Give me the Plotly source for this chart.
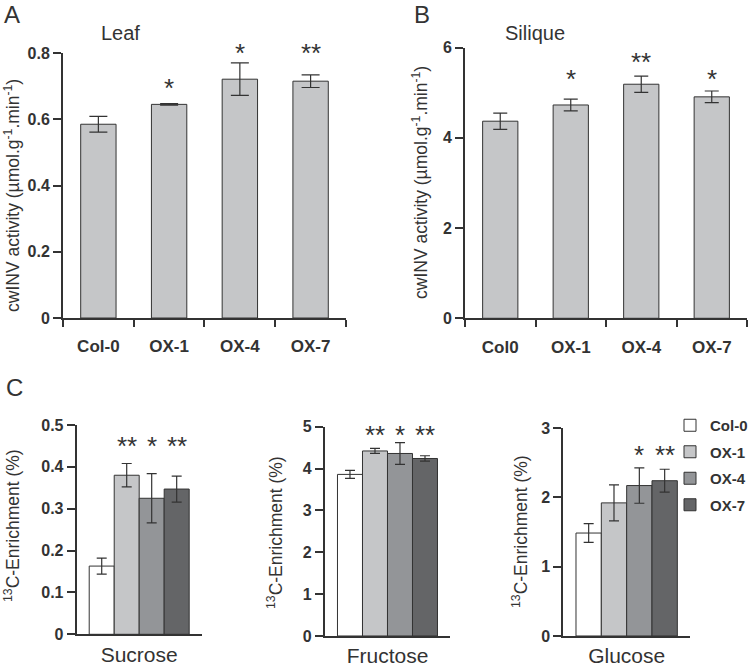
import plotly.graph_objects as go

# ---------------- data ----------------
genotypes_leaf = ["Col-0", "OX-1", "OX-4", "OX-7"]
leaf_activity = [0.585, 0.645, 0.721, 0.715]
leaf_err = [0.024, 0.002, 0.049, 0.019]
leaf_stars = ["", "*", "*", "**"]
leaf_star_y = [None, 0.704, 0.81, 0.81]

genotypes_silique = ["Col0", "OX-1", "OX-4", "OX-7"]
silique_activity = [4.37, 4.73, 5.19, 4.91]
silique_err = [0.18, 0.13, 0.18, 0.13]
silique_stars = ["", "*", "**", "*"]
silique_star_y = [None, 5.37, 5.75, 5.37]

lines = ["Col-0", "OX-1", "OX-4", "OX-7"]
sugars = ["Sucrose", "Fructose", "Glucose"]
enrich = {
    "Sucrose": [0.163, 0.380, 0.325, 0.347],
    "Fructose": [3.86, 4.42, 4.36, 4.24],
    "Glucose": [1.485, 1.92, 2.17, 2.24],
}
enrich_err = {
    "Sucrose": [0.019, 0.028, 0.059, 0.031],
    "Fructose": [0.095, 0.06, 0.26, 0.065],
    "Glucose": [0.135, 0.26, 0.255, 0.165],
}
enrich_stars = {
    "Sucrose": ["", "**", "*", "**"],
    "Fructose": ["", "**", "*", "**"],
    "Glucose": ["", "", "*", "**"],
}
enrich_star_y = {"Sucrose": 0.457, "Fructose": 4.88, "Glucose": 2.66}
enrich_range = {"Sucrose": [0, 0.5], "Fructose": [0, 5], "Glucose": [0, 3]}
enrich_dtick = {"Sucrose": 0.1, "Fructose": 1, "Glucose": 1}
leaf_range = [0, 0.8]
silique_range = [0, 6]

# ---------------- style ----------------
FONT = "Liberation Sans, Arial, sans-serif"
TXT = "#333333"
AX = "#333333"
BAR_AB = "#c5c6c8"
line_colors = ["#ffffff", "#c5c6c8", "#939598", "#646567"]

fig = go.Figure()

# Panel A
fig.add_trace(go.Bar(
    x=genotypes_leaf, y=leaf_activity, width=0.5,
    marker=dict(color=BAR_AB, line=dict(color=AX, width=1)),
    error_y=dict(type="data", array=leaf_err, color=AX, thickness=1.2, width=9),
    xaxis="x", yaxis="y", showlegend=False))
# Panel B
fig.add_trace(go.Bar(
    x=genotypes_silique, y=silique_activity, width=0.5,
    marker=dict(color=BAR_AB, line=dict(color=AX, width=1)),
    error_y=dict(type="data", array=silique_err, color=AX, thickness=1.2, width=7),
    xaxis="x2", yaxis="y2", showlegend=False))

# Panel C
for k, sugar in enumerate(sugars):
    xa = "x%d" % (k + 3)
    ya = "y%d" % (k + 3)
    for i, ln in enumerate(lines):
        fig.add_trace(go.Bar(
            x=[sugar], y=[enrich[sugar][i]], name=ln,
            marker=dict(color=line_colors[i], line=dict(color=AX, width=1)),
            error_y=dict(type="data", array=[enrich_err[sugar][i]], color=AX,
                         thickness=1.2, width=5),
            xaxis=xa, yaxis=ya, showlegend=(k == 0), legendgroup=ln,
            offsetgroup=str(i)))

def xax(domain, **kw):
    d = dict(domain=domain, showline=True, linecolor=AX, linewidth=2,
             ticks="outside", ticklen=7, tickwidth=2, tickcolor=AX,
             tickfont=dict(family=FONT, size=17, color=TXT, weight="bold"),
             showgrid=False, zeroline=False, fixedrange=True, automargin=False)
    d.update(kw)
    return d

def yax(domain, rng, dtick, **kw):
    d = dict(domain=domain, range=rng, dtick=dtick, showline=True, linecolor=AX,
             linewidth=2, ticks="outside", ticklen=8, tickwidth=2, tickcolor=AX,
             tickfont=dict(family=FONT, size=16, color=TXT, weight="bold"),
             showgrid=False, zeroline=False, fixedrange=True, automargin=False)
    d.update(kw)
    return d

layout = dict(
    width=750, height=667, margin=dict(l=0, r=0, t=0, b=0, pad=0, autoexpand=False),
    paper_bgcolor="white", plot_bgcolor="white",
    barmode="group", bargap=0.2, bargroupgap=0,
    font=dict(family=FONT, color=TXT),
    showlegend=True,
    legend=dict(x=670 / 750, y=1 - 409 / 667, xanchor="left", yanchor="top",
                font=dict(family=FONT, size=15, color=TXT, weight="bold"),
                traceorder="grouped", tracegroupgap=4, itemwidth=30,
                bgcolor="rgba(0,0,0,0)"),
)
layout["xaxis"] = xax([0.084, 0.4613], anchor="y", tickson="boundaries", ticklabelstandoff=12)
layout["yaxis"] = yax([0.5232, 0.9205], leaf_range, 0.2, anchor="x",
                      tickvals=[0, 0.2, 0.4, 0.6, 0.8], ticktext=["0", "0.2", "0.4", "0.6", "0.8"])
layout["xaxis2"] = xax([0.62, 0.996], anchor="y2", tickson="boundaries", ticklabelstandoff=12)
layout["yaxis2"] = yax([0.5228, 0.9285], silique_range, 2, anchor="x2")

c_x_domains = [[0.1023, 0.2689], [0.4333, 0.60], [0.7511, 0.92]]
c_y_domains = [[0.0490, 0.3628], [0.0465, 0.3603], [0.0465, 0.3583]]
for k, sugar in enumerate(sugars):
    layout["xaxis%d" % (k + 3)] = xax(c_x_domains[k], anchor="y%d" % (k + 3), ticks="",
                                      tickfont=dict(family=FONT, size=21, color=TXT),
                                      ticklabelstandoff=0, range=[-0.5, 0.5])
    layout["yaxis%d" % (k + 3)] = yax(c_y_domains[k], enrich_range[sugar], enrich_dtick[sugar],
                                      anchor="x%d" % (k + 3))
fig.update_layout(**layout)

ann = []
def paper_text(txt, x, y, size, angle=0):
    return dict(text=txt, x=x / 750, y=1 - y / 667, xref="paper", yref="paper",
                xanchor="center", yanchor="middle", textangle=angle,
                showarrow=False, font=dict(family=FONT, size=size, color=TXT))

# panel letters and titles
for txt, x, y in [("A", 12, 15), ("B", 422, 15), ("C", 14, 387)]:
    ann.append(paper_text(txt, x, y, 24))
for txt, x, y in [("Leaf", 120, 33), ("Silique", 535, 33)]:
    ann.append(paper_text(txt, x, y, 20))
# y titles
ytitle_ab = "cwINV activity (µmol.g<sup>-1</sup>.min<sup>-1</sup>)"
ytitle_c = "<sup>13</sup>C-Enrichment (%)"
for txt, x, y in [(ytitle_ab, 12, 196), (ytitle_ab, 420, 183),
                  (ytitle_c, 12, 526), (ytitle_c, 275, 533), (ytitle_c, 520, 532)]:
    ann.append(paper_text(txt, x, y, 17.5, angle=-90))

star_font = dict(family=FONT, size=26, color=TXT)
STAR_SHIFT = -3
for g, s, yy in zip(genotypes_leaf, leaf_stars, leaf_star_y):
    if s:
        ann.append(dict(text=s, x=g, y=yy / leaf_range[1], xref="x", yref="y domain",
                        xanchor="center", yanchor="middle",
                        showarrow=False, font=star_font, yshift=STAR_SHIFT))
for g, s, yy in zip(genotypes_silique, silique_stars, silique_star_y):
    if s:
        ann.append(dict(text=s, x=g, y=yy / silique_range[1], xref="x2", yref="y2 domain",
                        xanchor="center", yanchor="middle",
                        showarrow=False, font=star_font, yshift=STAR_SHIFT))
n = len(lines)
for k, sugar in enumerate(sugars):
    for i, s in enumerate(enrich_stars[sugar]):
        if s:
            xpos = -0.4 + 0.8 * (i + 0.5) / n
            ann.append(dict(text=s, x=xpos, y=enrich_star_y[sugar] / enrich_range[sugar][1],
                            xref="x%d" % (k + 3), yref="y%d domain" % (k + 3),
                            xanchor="center", yanchor="middle",
                            showarrow=False, font=star_font, yshift=STAR_SHIFT))
fig.update_layout(annotations=ann)

fig.write_html("out.html", config={"displayModeBar": False},
               post_script="document.body.style.margin='0';document.body.style.overflow='hidden';")
